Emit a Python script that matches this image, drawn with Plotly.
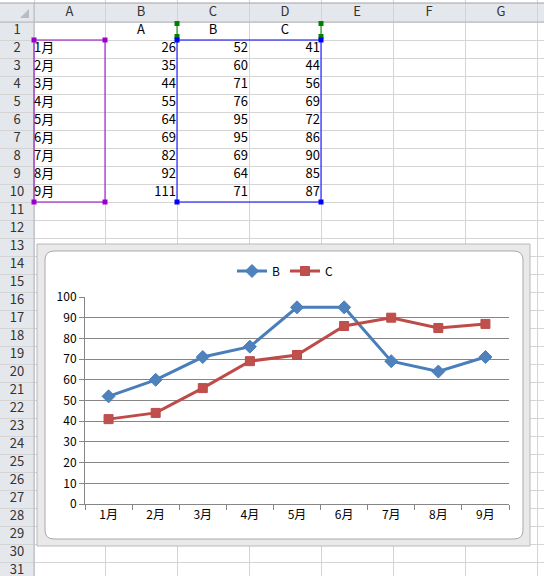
import plotly.graph_objects as go

# sheet contents
months = ["1月", "2月", "3月", "4月", "5月", "6月", "7月", "8月", "9月"]
series_a = [26, 35, 44, 55, 64, 69, 82, 92, 111]
series_b = [52, 60, 71, 76, 95, 95, 69, 64, 71]
series_c = [41, 44, 56, 69, 72, 86, 90, 85, 87]
row1_labels = ["A", "B", "C"]
col_letters = ["A", "B", "C", "D", "E", "F", "G"]
row_numbers = list(range(1, 32))

# sheet geometry (pixel units of the sheet axes)
W, H = 544, 576
COL_EDGES = [34, 105, 177, 249, 321, 393, 465, 537]
HEAD_TOP = 3
ROW_TOP = 22
ROW_H = 18
ROW_EDGES = [ROW_TOP + ROW_H * i for i in range(32)]

FONT = "MS PGothic, Noto Sans CJK JP, sans-serif"


def col_center(i):
    return (COL_EDGES[i] + COL_EDGES[i + 1]) / 2


def row_center(r):
    return ROW_TOP + ROW_H * (r - 1) + ROW_H / 2


fig = go.Figure()

# --- spreadsheet text ---
cell_font = dict(family=FONT, size=13, color="#000000")
head_font = dict(family=FONT, size=13, color="#333333")

fig.add_trace(go.Scatter(
    x=[col_center(i) for i in range(len(col_letters))],
    y=[(HEAD_TOP + ROW_TOP) / 2] * len(col_letters),
    text=col_letters, mode="text", textfont=head_font,
    showlegend=False, hoverinfo="skip"))
fig.add_trace(go.Scatter(
    x=[COL_EDGES[0] / 2] * len(row_numbers),
    y=[row_center(r) for r in row_numbers],
    text=[str(r) for r in row_numbers], mode="text", textfont=head_font,
    showlegend=False, hoverinfo="skip"))
fig.add_trace(go.Scatter(
    x=[col_center(i) for i in range(1, 4)],
    y=[row_center(1)] * 3,
    text=row1_labels, mode="text", textfont=cell_font,
    showlegend=False, hoverinfo="skip"))
fig.add_trace(go.Scatter(
    x=[COL_EDGES[0]] * len(months),
    y=[row_center(r) for r in range(2, 11)],
    text=months, mode="text", textposition="middle right", textfont=cell_font,
    showlegend=False, hoverinfo="skip"))
for ci, vals in zip([1, 2, 3], [series_a, series_b, series_c]):
    fig.add_trace(go.Scatter(
        x=[COL_EDGES[ci + 1] - 1] * len(vals),
        y=[row_center(r) for r in range(2, 11)],
        text=[str(v) for v in vals], mode="text", textposition="middle left",
        textfont=cell_font, showlegend=False, hoverinfo="skip"))

# --- chart series ---
fig.add_trace(go.Scatter(
    x=months, y=series_b, name="B", mode="lines+markers",
    line=dict(color="#4A7EBB", width=3),
    marker=dict(symbol="diamond", size=10, color="#4F81BD",
                line=dict(color="#4A7EBB", width=1)),
    xaxis="x2", yaxis="y2"))
fig.add_trace(go.Scatter(
    x=months, y=series_c, name="C", mode="lines+markers",
    line=dict(color="#BE4B48", width=3),
    marker=dict(symbol="square", size=9, color="#C0504D",
                line=dict(color="#BE4B48", width=1)),
    xaxis="x2", yaxis="y2"))

# --- shapes: headers, range highlights, chart frame ---
shapes = []
hdr_fill = "#e4e7ec"
shapes.append(dict(type="rect", x0=0, x1=W, y0=HEAD_TOP, y1=ROW_TOP,
                   fillcolor=hdr_fill, line_width=0, layer="below"))
shapes.append(dict(type="rect", x0=0, x1=COL_EDGES[0], y0=HEAD_TOP, y1=H,
                   fillcolor=hdr_fill, line_width=0, layer="below"))
shapes.append(dict(type="line", x0=0, x1=W, y0=HEAD_TOP, y1=HEAD_TOP,
                   line=dict(color="#9ea3a9", width=1), layer="between"))
shapes.append(dict(type="line", x0=0, x1=W, y0=ROW_TOP, y1=ROW_TOP,
                   line=dict(color="#b5bac0", width=1), layer="between"))
shapes.append(dict(type="line", x0=COL_EDGES[0], x1=COL_EDGES[0], y0=HEAD_TOP, y1=H,
                   line=dict(color="#b5bac0", width=1), layer="between"))
shapes.append(dict(type="path", path="M 29 9 L 29 18 L 20 18 Z",
                   fillcolor="#b8bcc2", line_width=0, layer="between"))


def handle(cx, cy, color):
    return dict(type="rect", x0=cx - 2.5, x1=cx + 2.5, y0=cy - 2.5, y1=cy + 2.5,
                fillcolor=color, line_width=0, layer="between")


def highlight(x0, y0, x1, y1, color):
    out = [dict(type="rect", x0=x0, x1=x1, y0=y0, y1=y1,
                line=dict(color=color, width=1), layer="between")]
    out += [handle(cx, cy, color) for cx in (x0, x1) for cy in (y0, y1)]
    return out


shapes += highlight(COL_EDGES[0], ROW_EDGES[1], COL_EDGES[1], ROW_EDGES[10], "#9900cc")
# series-name range C1:D1 (only its sides show)
green = "#008000"
for gx in (COL_EDGES[2], COL_EDGES[4]):
    shapes.append(dict(type="line", x0=gx, x1=gx, y0=ROW_TOP + 1, y1=ROW_EDGES[1] - 3,
                       line=dict(color=green, width=1), layer="between"))
    shapes.append(handle(gx, ROW_TOP + 1.5, green))
    shapes.append(handle(gx, ROW_EDGES[1] - 3.5, green))
shapes += highlight(COL_EDGES[2], ROW_EDGES[1], COL_EDGES[4], ROW_EDGES[10], "#0000ff")

# chart frame
fx0, fy0, fx1, fy1 = 37, 244, 530, 546
shapes.append(dict(type="rect", x0=fx0, x1=fx1, y0=fy0, y1=fy1,
                   fillcolor="#e9e9e9", line=dict(color="#b9b9b9", width=1), layer="between"))
ix0, iy0, ix1, iy1, r = 45, 251, 523, 539, 9
rounded = (f"M {ix0 + r} {iy0} L {ix1 - r} {iy0} Q {ix1} {iy0} {ix1} {iy0 + r} "
           f"L {ix1} {iy1 - r} Q {ix1} {iy1} {ix1 - r} {iy1} "
           f"L {ix0 + r} {iy1} Q {ix0} {iy1} {ix0} {iy1 - r} "
           f"L {ix0} {iy0 + r} Q {ix0} {iy0} {ix0 + r} {iy0} Z")
shapes.append(dict(type="path", path=rounded, fillcolor="#ffffff",
                   line=dict(color="#a9a9a9", width=1), layer="between"))
for s in shapes:
    s.setdefault("xref", "x")
    s.setdefault("yref", "y")

axis_grey = "#868686"
fig.update_layout(
    width=W, height=H,
    margin=dict(l=0, r=0, t=0, b=0, autoexpand=False),
    paper_bgcolor="#ffffff", plot_bgcolor="#ffffff",
    font=dict(family=FONT, size=12, color="#000000"),
    shapes=shapes,
    xaxis=dict(domain=[0, 1], range=[0, W], tickvals=COL_EDGES, showticklabels=False,
               showgrid=True, gridcolor="#d4d4d4", zeroline=False, fixedrange=True),
    yaxis=dict(domain=[0, 1], range=[H, 0], tickvals=ROW_EDGES, showticklabels=False,
               showgrid=True, gridcolor="#d4d4d4", zeroline=False, fixedrange=True),
    xaxis2=dict(domain=[85 / W, 509 / W], anchor="y2", type="category",
                range=[-0.5, len(months) - 0.5], tickson="boundaries",
                ticks="outside", ticklen=5, tickcolor=axis_grey,
                showline=True, linecolor=axis_grey, showgrid=False, zeroline=False,
                tickfont=dict(size=12), fixedrange=True),
    yaxis2=dict(domain=[(H - 504) / H, (H - 297) / H], anchor="x2",
                range=[0, 100], dtick=10, tick0=0,
                ticks="outside", ticklen=5, tickcolor=axis_grey,
                showline=True, linecolor=axis_grey, showgrid=True, gridcolor=axis_grey,
                zeroline=False, tickfont=dict(size=12), fixedrange=True),
    legend=dict(orientation="h", x=285 / W, y=(H - 271) / H, xanchor="center",
                yanchor="middle", font=dict(size=12), bgcolor="rgba(0,0,0,0)",
                itemwidth=30),
)

# the figure is exactly window-sized, so drop the page's default body margin
fig.write_html("out.html", config={"displayModeBar": False},
               post_script="document.body.style.margin='0';"
                           "document.documentElement.style.overflow='hidden';")
